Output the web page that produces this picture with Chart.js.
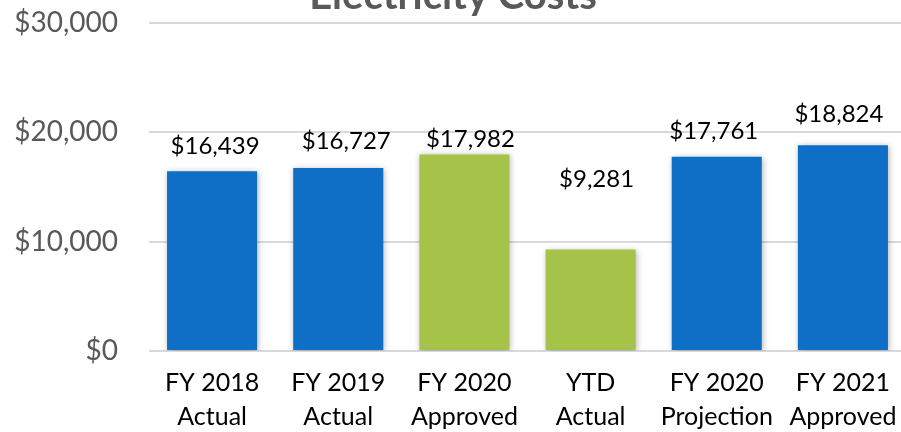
<!DOCTYPE html>
<html>
<head>
<meta charset="utf-8">
<title>Electricity Costs</title>
<script src="https://cdn.jsdelivr.net/npm/chart.js@4.4.1/dist/chart.umd.min.js"></script>
<style>
  html, body { margin: 0; padding: 0; background: #fff; overflow: hidden; }
  #wrap { position: absolute; left: 0; top: -40px; width: 906px; height: 472px; }
</style>
</head>
<body>
<div id="wrap"><canvas id="costChart"></canvas></div>
<script>
const categories = [
    ['FY 2018', 'Actual'],
    ['FY 2019', 'Actual'],
    ['FY 2020', 'Approved'],
    ['YTD', 'Actual'],
    ['FY 2020', 'Projection'],
    ['FY 2021', 'Approved']
];
const costs = [16439, 16727, 17982, 9281, 17761, 18824];
const yTickLabels = ['$0', '$10,000', '$20,000', '$30,000'];

// styling
const BLUE = '#0F6FC6';
const GREEN = '#A5C249';
const barColors = [BLUE, BLUE, GREEN, GREEN, BLUE, BLUE];
const FONT = 'Lato, "Open Sans", sans-serif';

const barShadow = {
    id: 'barShadow',
    beforeDatasetsDraw(chart) {
        const ctx = chart.ctx;
        ctx.save();
        ctx.shadowColor = 'rgba(0,0,0,0.3)';
        ctx.shadowBlur = 6;
        ctx.shadowOffsetX = 1;
        ctx.shadowOffsetY = 1;
    },
    afterDatasetsDraw(chart) {
        chart.ctx.restore();
    }
};

// value labels above bars, nudged like the original
const valueLabels = {
    id: 'valueLabels',
    afterDatasetsDraw(chart, args, opts) {
        const ctx = chart.ctx;
        const meta = chart.getDatasetMeta(0);
        ctx.save();
        ctx.font = opts.size + 'px ' + FONT;
        ctx.fillStyle = '#000';
        ctx.textAlign = 'center';
        ctx.textBaseline = 'middle';
        meta.data.forEach((bar, i) => {
            const text = '$' + costs[i].toLocaleString('en-US');
            ctx.fillText(text, bar.x + opts.dx[i], bar.y - opts.dy[i]);
        });
        ctx.restore();
    }
};

new Chart(document.getElementById('costChart'), {
    type: 'bar',
    data: {
        labels: categories,
        datasets: [{
            data: costs,
            backgroundColor: barColors,
            borderWidth: 0,
            barPercentage: 0.714,
            categoryPercentage: 1
        }]
    },
    options: {
        responsive: true,
        maintainAspectRatio: false,
        animation: false,
        layout: { padding: 0 },
        plugins: {
            legend: { display: false },
            tooltip: { enabled: false },
            title: {
                display: true,
                text: 'Electricity Costs',
                color: '#595959',
                font: { family: FONT, size: 40, weight: 'bold' },
                padding: { top: 12.2, bottom: 2.8 }
            },
            valueLabels: {
                size: 24,
                dx: [3, 8, 6, 6, -3, -4],
                dy: [25, 27, 15, 70, 26, 31]
            }
        },
        scales: {
            x: {
                grid: { display: false },
                border: { display: false },
                ticks: {
                    color: '#000',
                    font: { family: FONT, size: 25, lineHeight: 1.36 },
                    padding: 7,
                    maxRotation: 0,
                    autoSkip: false
                },
                afterFit(scale) {
                    scale.height = 81;
                    scale.paddingLeft = 0;
                    scale.paddingRight = 0;
                }
            },
            y: {
                min: 0,
                max: 30000,
                ticks: {
                    stepSize: 10000,
                    color: '#595959',
                    font: { family: FONT, size: 28 },
                    padding: 31,
                    callback: (v) => yTickLabels[v / 10000]
                },
                grid: { color: '#D9D9D9', lineWidth: 2, drawTicks: false },
                border: { display: false },
                afterFit(scale) { scale.width = 149; }
            }
        }
    },
    plugins: [barShadow, valueLabels]
});
</script>
</body>
</html>
